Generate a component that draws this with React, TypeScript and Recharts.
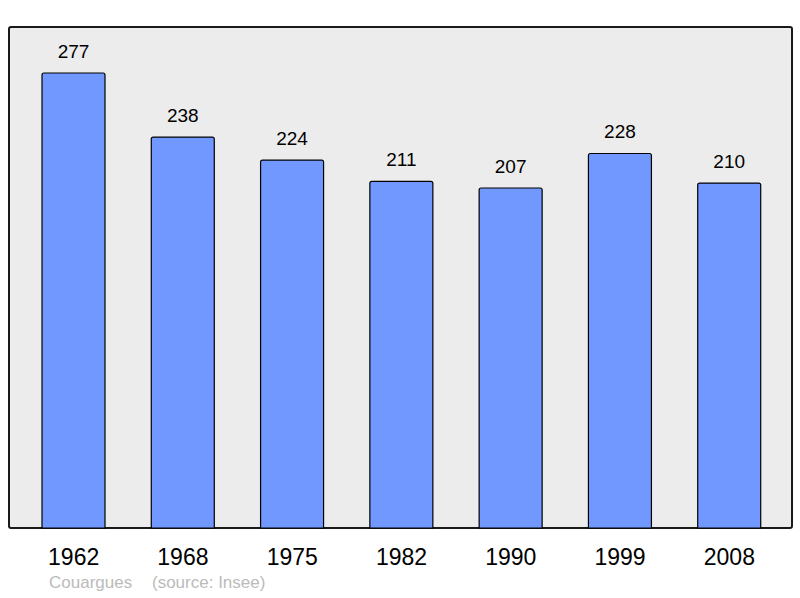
import { BarChart, Bar, XAxis, YAxis, LabelList } from 'recharts';

const years = ['1962', '1968', '1975', '1982', '1990', '1999', '2008'];
const population = [277, 238, 224, 211, 207, 228, 210];

const data = years.map((year, i) => ({ year, population: population[i] }));

const font = '"Liberation Sans", Arial, sans-serif';

export default function App() {
    return (
        <div style={{ position: 'fixed', left: 0, top: 0, width: 800, height: 598, background: '#fff', fontFamily: font }}>
            {/* framed grey plot background */}
            <div
                style={{
                    position: 'absolute',
                    left: 8,
                    top: 26,
                    width: 781,
                    height: 499,
                    background: '#ececec',
                    border: '2px solid #1a1a1a',
                    borderRadius: 3,
                }}
            />
            <div style={{ position: 'absolute', left: 0, top: 0 }}>
                <BarChart
                    width={800}
                    height={598}
                    data={data}
                    margin={{ top: 27, right: 8, bottom: 40, left: 9 }}
                >
                    <XAxis
                        dataKey="year"
                        height={30}
                        axisLine={false}
                        tickLine={false}
                        padding={{ left: 10, right: 8 }}
                        tick={{ fontSize: 23, fill: '#000', fontFamily: font }}
                        tickMargin={15}
                        interval={0}
                    />
                    <YAxis hide domain={[0, 305]} />
                    <Bar
                        dataKey="population"
                        fill="#7098ff"
                        stroke="#000"
                        strokeWidth={1.2}
                        barSize={63}
                        radius={[2, 2, 0, 0]}
                        isAnimationActive={false}
                    >
                        <LabelList
                            dataKey="population"
                            position="top"
                            offset={15}
                            style={{ fontSize: 19, fill: '#000', fontFamily: font }}
                        />
                    </Bar>
                </BarChart>
            </div>
            <div style={{ position: 'absolute', left: 49, top: 573, fontSize: 17, color: '#bbb' }}>
                Couargues
            </div>
            <div style={{ position: 'absolute', left: 152, top: 573, fontSize: 17, color: '#bbb' }}>
                (source: Insee)
            </div>
        </div>
    );
}
